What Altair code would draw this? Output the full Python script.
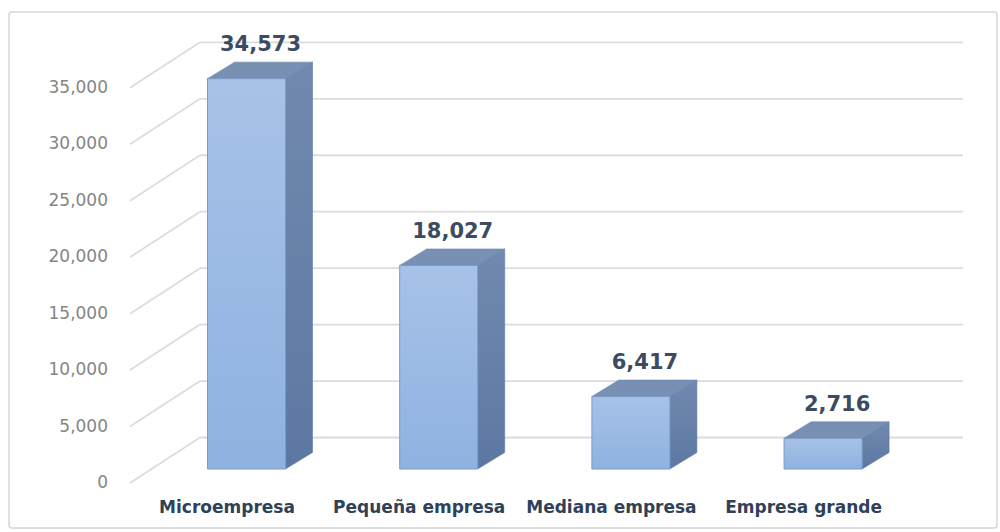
import altair as alt
import pandas as pd

# ---------------- data ----------------
categories = ["Microempresa", "Pequeña empresa", "Mediana empresa", "Empresa grande"]
values = [34573, 18027, 6417, 2716]
tick_values = [0, 5000, 10000, 15000, 20000, 25000, 30000, 35000]

# ---------------- geometry (style constants) ----------------
W, H = 988, 516          # plot area size in px
STEP = 192.2             # px between category centres
C0 = 237.5               # px of first category centre inside plot
K = 0.01129              # px per value unit
Y0 = 457                 # px of bar baseline inside plot


def xu(px):
    return px / STEP


def yu(px):
    return px / K


HW = xu(39)              # half bar width
DX = xu(27)              # depth x
DY = yu(16.5)            # depth y
FRONT_X = xu(-116.5)
BACK_X0 = xu(-46.5)
BACK_X1 = xu(716.5)
FRONT_OFF = yu(14)
BACK_OFF = yu(31.5)

XDOM = [-C0 / STEP, (W - C0) / STEP]
YDOM = [(Y0 - H) / K, Y0 / K]

xs = alt.Scale(domain=XDOM, nice=False, zero=False)
ys = alt.Scale(domain=YDOM, nice=False, zero=False)

# ---------------- tables built from the arrays ----------------
idx = list(range(len(categories)))
bars = pd.DataFrame({"cat": categories, "value": values, "i": idx})
bars["x0"] = bars["i"] - HW
bars["x1"] = bars["i"] + HW
bars["lx"] = bars["i"] + xu(14)
bars["ly"] = bars["value"] + DY
bars["cx"] = bars["i"] - xu(19.5)
bars["zero"] = 0

side_rows, top_rows = [], []
for c, v, i in zip(categories, values, idx):
    side_rows.append({"cat": c, "x": i + HW, "lo": 0, "hi": v})
    side_rows.append({"cat": c, "x": i + HW + DX, "lo": DY, "hi": v + DY})
    top_rows.append({"cat": c, "y": v, "xl": i - HW, "xr": i + HW})
    top_rows.append({"cat": c, "y": v + DY, "xl": i - HW + DX, "xr": i + HW + DX})
side = pd.DataFrame(side_rows)
top = pd.DataFrame(top_rows)

grid = pd.DataFrame({"t": tick_values})
grid["fy"] = grid["t"] - FRONT_OFF
grid["by"] = grid["t"] + BACK_OFF
grid["fx"] = FRONT_X
grid["bx0"] = BACK_X0
grid["bx1"] = BACK_X1

GRID_COLOR = "#dcdcdc"

back_lines = alt.Chart(grid).mark_rule(color=GRID_COLOR, strokeWidth=1.8).encode(
    x=alt.X("bx0:Q", scale=xs, axis=None),
    x2="bx1:Q",
    y=alt.Y("by:Q", scale=ys, axis=None),
)
diag_lines = alt.Chart(grid).mark_rule(color=GRID_COLOR, strokeWidth=1.8).encode(
    x=alt.X("fx:Q", scale=xs, axis=None),
    x2="bx0:Q",
    y=alt.Y("fy:Q", scale=ys, axis=None),
    y2="by:Q",
)

side_grad = alt.Gradient(
    gradient="linear",
    stops=[alt.GradientStop(color="#7189b0", offset=0),
           alt.GradientStop(color="#5c78a2", offset=1)],
    x1=0, x2=0, y1=0, y2=1,
)
side_face = alt.Chart(side).mark_area(
    orient="vertical", color=side_grad, stroke="#5f7aa2", strokeWidth=0.6
).encode(
    x=alt.X("x:Q", scale=xs, axis=None),
    y=alt.Y("lo:Q", scale=ys, axis=None),
    y2="hi:Q",
    detail="cat:N",
)

top_face = alt.Chart(top).mark_area(
    orient="horizontal", color="#7890b3", stroke="#6a83aa", strokeWidth=0.6
).encode(
    y=alt.Y("y:Q", scale=ys, axis=None),
    x=alt.X("xl:Q", scale=xs, axis=None),
    x2="xr:Q",
    detail="cat:N",
)

front_grad = alt.Gradient(
    gradient="linear",
    stops=[alt.GradientStop(color="#a7c2e8", offset=0),
           alt.GradientStop(color="#8fb2e0", offset=1)],
    x1=0, x2=0, y1=0, y2=1,
)
front_face = alt.Chart(bars).mark_rect(
    color=front_grad, stroke="#7c9ac7", strokeWidth=1
).encode(
    x=alt.X("x0:Q", scale=xs, axis=None),
    x2="x1:Q",
    y=alt.Y("zero:Q", scale=ys, axis=None),
    y2="value:Q",
)

value_labels = alt.Chart(bars).mark_text(
    font="DejaVu Sans", fontWeight="bold", fontSize=21, color="#3b4b61",
    align="center", baseline="alphabetic", dy=-11
).encode(
    x=alt.X("lx:Q", scale=xs, axis=None),
    y=alt.Y("ly:Q", scale=ys, axis=None),
    text=alt.Text("value:Q", format=","),
)

cat_labels = alt.Chart(bars).mark_text(
    font="DejaVu Sans", fontWeight="bold", fontSize=17, color="#2f4159",
    align="center", baseline="alphabetic", dy=44
).encode(
    x=alt.X("cx:Q", scale=xs, axis=None),
    y=alt.Y("zero:Q", scale=ys, axis=None),
    text="cat:N",
)

tick_labels = alt.Chart(grid).mark_text(
    font="DejaVu Sans", fontSize=17, color="#858585",
    align="right", baseline="middle", dx=-22
).encode(
    x=alt.X("fx:Q", scale=xs, axis=None),
    y=alt.Y("fy:Q", scale=ys, axis=None),
    text=alt.Text("t:Q", format=","),
)

chart = alt.layer(
    back_lines, diag_lines, side_face, top_face, front_face,
    value_labels, cat_labels, tick_labels
).properties(
    width=W, height=H,
    autosize=alt.AutoSizeParams(type="none"),
    padding={"left": 9, "top": 12, "right": 3, "bottom": 4},
    background="white",
).configure_view(
    stroke="#d6d6d6", strokeWidth=1.5, cornerRadius=3
)

chart.save("out.html", embed_options={"renderer": "svg", "actions": False})
